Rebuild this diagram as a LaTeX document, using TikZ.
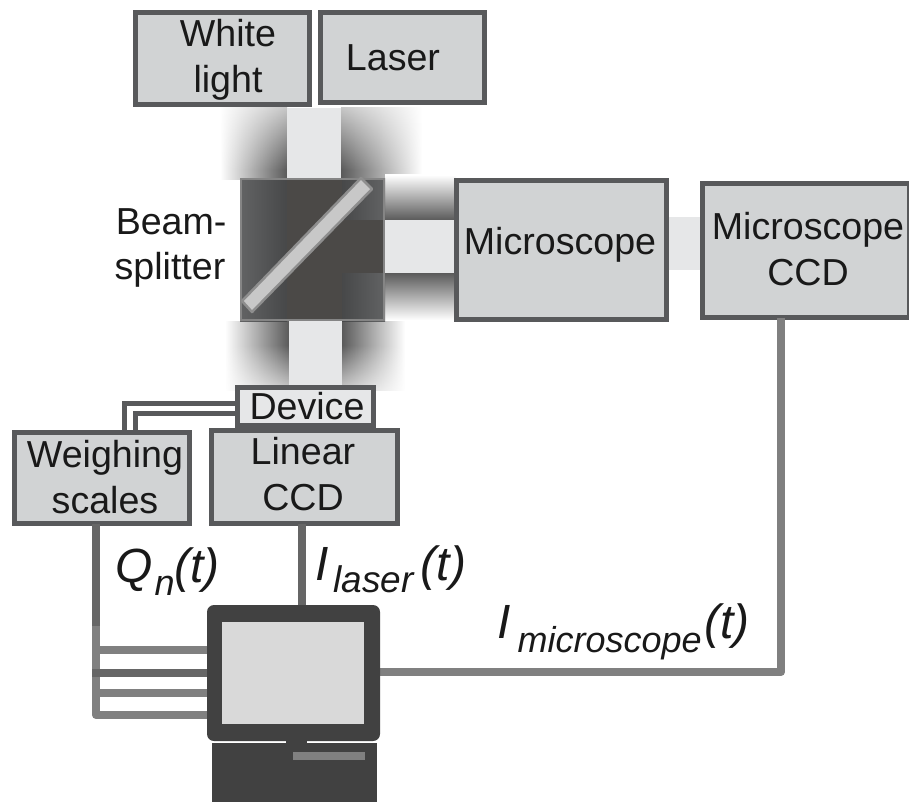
\documentclass[tikz,border=0pt]{standalone}
\usepackage{fontspec}
\setmainfont{Liberation Sans}
\usetikzlibrary{fadings,calc}
\definecolor{edge}{HTML}{58595B}
\definecolor{boxfill}{HTML}{D1D3D4}
\definecolor{beam}{HTML}{E6E7E8}
\definecolor{wire}{HTML}{808080}
\definecolor{wiredark}{HTML}{666666}
\definecolor{pc}{HTML}{414141}
\definecolor{shadow}{HTML}{5A5A5A}
\definecolor{cubemid}{HTML}{4B4947}
\definecolor{cubelight}{HTML}{626364}
\definecolor{cubedark}{HTML}{474849}
\definecolor{cubeedge}{HTML}{858585}
\definecolor{splitfill}{HTML}{C8C8C8}
\definecolor{splitedge}{HTML}{8E8E8E}
\tikzfading[name=fromwhitetop,top color=transparent!0,bottom color=transparent!100]
\tikzfading[name=fromwhitebottom,top color=transparent!100,bottom color=transparent!0]
\tikzfading[name=fromwhiteright,left color=transparent!100,right color=transparent!0]
\tikzset{
  x=1pt,y=-1pt,
  boxnode/.style={draw=edge,line width=5pt,fill=boxfill,rectangle,inner sep=0pt,outer sep=0pt},
  lbl/.style={font=\fontsize{37.6}{45.5}\selectfont,align=center,inner sep=0pt,text=black!90},
  ilbl/.style={font=\fontsize{48}{50}\selectfont\itshape,inner sep=0pt,anchor=base west,text=black!90},
  wirea/.style={draw=wire,line width=8pt},
  wireb/.style={draw=wiredark,line width=8pt},
  devwire/.style={draw=edge,line width=5pt},
  glowl/.style={left color=white,middle color=black!11,right color=shadow},
  glowr/.style={left color=shadow,middle color=black!11,right color=white},
  glowt/.style={top color=white,middle color=black!7,bottom color=shadow},
  glowb/.style={top color=shadow,middle color=black!7,bottom color=white},
}
\newcommand{\bx}[5]{\node[boxnode,minimum width=#4-#2-5,minimum height=#5-#3-5] (#1) at ({(#2+#4)/2},{(#3+#5)/2}) {};}
\newcommand{\subs}[3]{\raisebox{-#1pt}{\fontsize{#2}{#2}\selectfont #3}}
\begin{document}
\begin{tikzpicture}
\useasboundingbox (0,0) rectangle (909,802);
% glows
\shade[glowl] (220,108) rectangle (287,180);
\shade[glowr] (341,108) rectangle (422,180);
\fill[white,path fading=fromwhitetop] (212,75) rectangle (428,170);
\shade[glowl] (225,321) rectangle (289,390);
\shade[glowr] (342,321) rectangle (405,390);
\fill[white,path fading=fromwhitebottom] (220,345) rectangle (410,410);
\shade[glowt] (385,175) rectangle (456,220);
\shade[glowb] (385,273) rectangle (456,320);
% beams
\fill[beam] (287,108) rectangle (341,180);
\fill[beam] (289,321) rectangle (342,386);
\fill[beam] (385,220) rectangle (456,273);
\fill[beam] (668,217) rectangle (702,270);
% boxes
\bx{white}{133}{10}{312}{107}
\bx{laser}{318}{10}{487}{105}
\bx{micro}{454}{178}{669}{322}
\bx{mccd}{700}{181}{912}{320}
\bx{scales}{12}{430}{192}{526}
\bx{lccd}{209}{428}{400}{526}
% helper levels and columns
\coordinate (y1) at (0,650);
\coordinate (y2) at (0,673);
\coordinate (y3) at (0,693);
\coordinate (y4) at (0,715);
\coordinate (ym) at (0,672);
\coordinate (xs) at (96,0);
\coordinate (xl) at (302,0);
\coordinate (xm) at (781,0);
\coordinate (xb) at (92,0);
\coordinate (c1) at (124,403);
\coordinate (c2) at (135,413);
\coordinate (corner) at (96,715);
\coordinate (split) at (96,626);
\coordinate (mcorner) at (781,672);
% wires to computer (drawn under it)
\draw[wireb] (xs |- scales.south) -- (xs |- split);
\draw[wirea,line join=round] (split) -- (corner) -- (corner -| 210,0);
\draw[wireb] (xb |- y2) -- (y2 -| 210,0);
\draw[wirea] (xb |- y1) -- (y1 -| 210,0);
\draw[wirea] (xb |- y3) -- (y3 -| 210,0);
\draw[wireb] (xl |- lccd.south) -- (xl |- 0,608);
\draw[wirea,line join=round] (xm |- mccd.south) -- (mcorner) -- (mcorner -| 378,0);
% computer
\node[fill=pc,rectangle,minimum width=21,minimum height=8,inner sep=0,outer sep=0] (neck) at (296.5,742) {};
\node[fill=pc,rectangle,rounded corners=7pt,minimum width=173,minimum height=136,inner sep=0,outer sep=0] (pc) at (293.5,673) {};
\node[fill=pc,rectangle,minimum width=165,minimum height=59,inner sep=0,outer sep=0] (tower) at (294.5,772.5) {};
\node[fill=wire,rectangle,minimum width=72,minimum height=8,inner sep=0,outer sep=0] (slot) at (329,756) {};
\node[fill=black!15,rectangle,minimum width=142,minimum height=102,inner sep=0,outer sep=0] (screen) at (293,673) {};
% device
\node[boxnode,fill=beam,minimum width=136,minimum height=38] (device) at (305.5,406.5) {};
\draw[devwire] (device.west |- c1) -| (c1 |- scales.north);
\draw[devwire] (device.west |- c2) -| (c2 |- scales.north);
% cube
\shade[left color=cubelight,right color=cubedark] (240,179) rectangle (287,321);
\fill[cubemid] (287,179) rectangle (342,321);
\shade[left color=cubedark,right color=cubelight] (342,179) rectangle (385,220);
\shade[left color=cubedark,right color=cubelight] (342,273) rectangle (385,321);
\fill[cubemid] (342,220) rectangle (385,273);
\node[draw=cubeedge,line width=2.5pt,rectangle,minimum width=143,minimum height=141,inner sep=0,outer sep=0] (cube) at (312.5,249.5) {};
% splitter plate
\fill[splitfill,draw=splitedge,line width=2.5pt,line join=round] (361,178) -- (372,189) -- (252,312) -- (242,301) -- cycle;
% labels
\node[lbl] (tw) at (228,60) {White\\light};
\node[lbl] (tl) at (393,58) {Laser};
\node[lbl] (tb) at (170,248) {\makebox[113pt][r]{Beam-}\\splitter};
\node[lbl] (tm) at (560,245) {Microscope};
\node[lbl] (tc) at (808,249) {Microscope\\CCD};
\node[lbl] (td) at (307,406) {Device};
\node[lbl] (ts) at (105,477) {Weighing\\scales};
\node[lbl] (tn) at (303,474) {Linear\\CCD};
\node[ilbl] (qn) at (115,582) {Q\hspace{2pt}\subs{13}{36}{n}(t)};
\node[ilbl] (il) at (315,580) {I\hspace{5pt}\subs{12}{37}{laser}\hspace{7pt}(t)};
\node[ilbl] (im) at (497,638) {I\hspace{7pt}\subs{14}{36}{microscope}\hspace{3pt}(t)};
\end{tikzpicture}
\end{document}
